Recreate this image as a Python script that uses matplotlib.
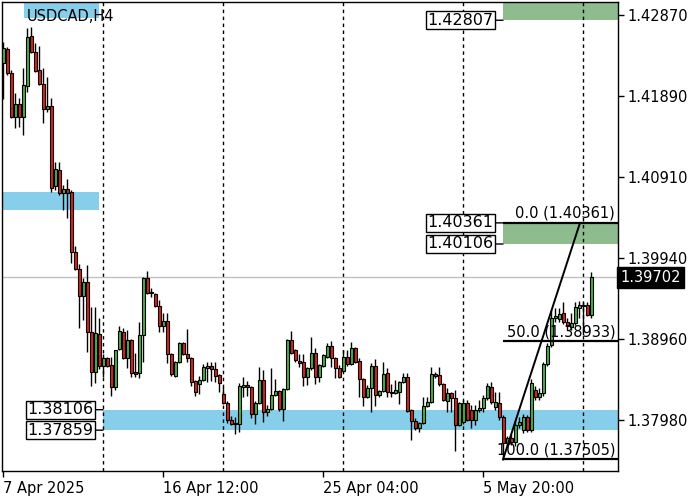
import matplotlib
matplotlib.use('Agg')
import numpy as np
import matplotlib.pyplot as plt
import matplotlib.transforms as mtransforms
from matplotlib.patches import Rectangle

plt.rcParams['font.family'] = ['DejaVu Sans']

symbol = 'USDCAD,H4'

# H4 candles, first bar 7 Apr 2025 20:00
opens = [
    1.4229, 1.4246, 1.4217, 1.4164, 1.4180, 1.4164, 1.4201, 1.4262, 1.4242, 1.4221,
    1.4204, 1.4174, 1.4177, 1.4081, 1.4100, 1.4072, 1.4077, 1.4073, 1.4001, 1.3980,
    1.3948, 1.3965, 1.3904, 1.3856, 1.3902, 1.3863, 1.3873, 1.3865, 1.3838, 1.3884,
    1.3904, 1.3873, 1.3895, 1.3856, 1.3855, 1.3901, 1.3970, 1.3953, 1.3950, 1.3936,
    1.3912, 1.3918, 1.3878, 1.3851, 1.3868, 1.3891, 1.3878, 1.3873, 1.3845, 1.3842,
    1.3846, 1.3861, 1.3863, 1.3860, 1.3852, 1.3830, 1.3819, 1.3798, 1.3793, 1.3793,
    1.3838, 1.3840, 1.3838, 1.3805, 1.3819, 1.3846, 1.3808, 1.3811, 1.3828, 1.3833,
    1.3811, 1.3836, 1.3895, 1.3883, 1.3869, 1.3868, 1.3850, 1.3861, 1.3879, 1.3850,
    1.3863, 1.3874, 1.3887, 1.3873, 1.3861, 1.3857, 1.3874, 1.3866, 1.3885, 1.3869,
    1.3848, 1.3826, 1.3837, 1.3863, 1.3828, 1.3833, 1.3855, 1.3831, 1.3831, 1.3832,
    1.3844, 1.3850, 1.3810, 1.3797, 1.3789, 1.3795, 1.3815, 1.3820, 1.3854, 1.3852,
    1.3842, 1.3821, 1.3831, 1.3825, 1.3792, 1.3796, 1.3819, 1.3810, 1.3798, 1.3810,
    1.3813, 1.3825, 1.3838, 1.3814, 1.3819, 1.3802, 1.3770, 1.3776, 1.3772, 1.3792,
    1.3786, 1.3802, 1.3786, 1.3834, 1.3826, 1.3831, 1.3866, 1.3889, 1.3921, 1.3920,
    1.3927, 1.3916, 1.3910, 1.3915, 1.3933, 1.3936, 1.3937, 1.3925]
highs = [
    1.4254, 1.4248, 1.4221, 1.4193, 1.4187, 1.4223, 1.4271, 1.4273, 1.4253, 1.4250,
    1.4223, 1.4212, 1.4187, 1.4110, 1.4110, 1.4082, 1.4089, 1.4076, 1.4008, 1.3986,
    1.3970, 1.3985, 1.3935, 1.3935, 1.3921, 1.3878, 1.3874, 1.3874, 1.3883, 1.3912,
    1.3909, 1.3907, 1.3896, 1.3879, 1.3916, 1.3971, 1.3978, 1.3957, 1.3951, 1.3943,
    1.3927, 1.3927, 1.3879, 1.3869, 1.3892, 1.3892, 1.3908, 1.3874, 1.3846, 1.3851,
    1.3866, 1.3868, 1.3868, 1.3868, 1.3854, 1.3838, 1.3821, 1.3803, 1.3802, 1.3843,
    1.3850, 1.3845, 1.3839, 1.3821, 1.3862, 1.3858, 1.3816, 1.3861, 1.3848, 1.3834,
    1.3837, 1.3896, 1.3906, 1.3884, 1.3878, 1.3878, 1.3862, 1.3898, 1.3885, 1.3866,
    1.3878, 1.3891, 1.3894, 1.3874, 1.3865, 1.3883, 1.3883, 1.3892, 1.3886, 1.3873,
    1.3849, 1.3840, 1.3867, 1.3872, 1.3834, 1.3868, 1.3861, 1.3842, 1.3846, 1.3845,
    1.3855, 1.3855, 1.3811, 1.3801, 1.3796, 1.3826, 1.3826, 1.3862, 1.3856, 1.3862,
    1.3843, 1.3837, 1.3832, 1.3834, 1.3820, 1.3822, 1.3822, 1.3816, 1.3816, 1.3822,
    1.3828, 1.3843, 1.3844, 1.3832, 1.3832, 1.3804, 1.3779, 1.3781, 1.3798, 1.3802,
    1.3805, 1.3804, 1.3848, 1.3839, 1.3837, 1.3868, 1.3891, 1.3931, 1.3933, 1.3933,
    1.3941, 1.3921, 1.3927, 1.3941, 1.3942, 1.3941, 1.3941, 1.3977]
lows = [
    1.4186, 1.4215, 1.4163, 1.4151, 1.4152, 1.4142, 1.4194, 1.4241, 1.4218, 1.4203,
    1.4157, 1.4170, 1.4073, 1.4076, 1.4070, 1.4052, 1.4042, 1.3988, 1.3979, 1.3909,
    1.3919, 1.3880, 1.3839, 1.3843, 1.3860, 1.3850, 1.3862, 1.3827, 1.3834, 1.3883,
    1.3872, 1.3861, 1.3850, 1.3850, 1.3849, 1.3868, 1.3950, 1.3947, 1.3935, 1.3904,
    1.3904, 1.3867, 1.3851, 1.3850, 1.3867, 1.3877, 1.3868, 1.3839, 1.3827, 1.3830,
    1.3845, 1.3844, 1.3845, 1.3844, 1.3832, 1.3817, 1.3795, 1.3792, 1.3781, 1.3784,
    1.3826, 1.3827, 1.3801, 1.3793, 1.3817, 1.3796, 1.3803, 1.3810, 1.3827, 1.3809,
    1.3797, 1.3834, 1.3878, 1.3868, 1.3862, 1.3839, 1.3840, 1.3858, 1.3842, 1.3844,
    1.3862, 1.3873, 1.3862, 1.3849, 1.3849, 1.3856, 1.3863, 1.3865, 1.3867, 1.3826,
    1.3815, 1.3825, 1.3808, 1.3815, 1.3826, 1.3832, 1.3826, 1.3826, 1.3830, 1.3817,
    1.3843, 1.3808, 1.3774, 1.3786, 1.3784, 1.3793, 1.3814, 1.3819, 1.3849, 1.3839,
    1.3821, 1.3808, 1.3808, 1.3761, 1.3791, 1.3793, 1.3797, 1.3789, 1.3792, 1.3808,
    1.3808, 1.3822, 1.3817, 1.3810, 1.3798, 1.37505, 1.3766, 1.3768, 1.3767, 1.3789,
    1.3782, 1.3784, 1.3784, 1.3822, 1.3822, 1.3827, 1.3863, 1.3886, 1.3916, 1.3916,
    1.3914, 1.3907, 1.3907, 1.3913, 1.3921, 1.3901, 1.3924, 1.3921]
closes = [
    1.4247, 1.4217, 1.4164, 1.4180, 1.4164, 1.4203, 1.4260, 1.4242, 1.4219, 1.4204,
    1.4174, 1.4177, 1.4078, 1.4101, 1.4072, 1.4077, 1.4072, 1.4001, 1.3980, 1.3948,
    1.3965, 1.3904, 1.3856, 1.3903, 1.3863, 1.3873, 1.3863, 1.3838, 1.3883, 1.3906,
    1.3873, 1.3895, 1.3855, 1.3854, 1.3901, 1.3970, 1.3951, 1.3951, 1.3936, 1.3912,
    1.3918, 1.3878, 1.3854, 1.3868, 1.3891, 1.3878, 1.3873, 1.3844, 1.3832, 1.3846,
    1.3862, 1.3863, 1.3860, 1.3851, 1.3843, 1.3819, 1.3798, 1.3793, 1.3795, 1.3839,
    1.3840, 1.3838, 1.3805, 1.3819, 1.3846, 1.3808, 1.3811, 1.3828, 1.3833, 1.3811,
    1.3836, 1.3895, 1.3879, 1.3871, 1.3867, 1.3850, 1.3861, 1.3879, 1.3850, 1.3865,
    1.3877, 1.3887, 1.3873, 1.3861, 1.3850, 1.3874, 1.3866, 1.3885, 1.3868, 1.3848,
    1.3826, 1.3837, 1.3863, 1.3828, 1.3833, 1.3854, 1.3832, 1.3832, 1.3834, 1.3844,
    1.3850, 1.3809, 1.3797, 1.3789, 1.3795, 1.3815, 1.3820, 1.3854, 1.3851, 1.3842,
    1.3822, 1.3831, 1.3825, 1.3792, 1.3819, 1.3819, 1.3798, 1.3798, 1.3810, 1.3813,
    1.3825, 1.3839, 1.3820, 1.3820, 1.3802, 1.3770, 1.3776, 1.3772, 1.3792, 1.3796,
    1.3802, 1.3786, 1.3843, 1.3826, 1.3831, 1.3866, 1.3887, 1.3921, 1.3924, 1.3926,
    1.3916, 1.3912, 1.3915, 1.3935, 1.3937, 1.3937, 1.3925, 1.39702]

date_ticks = [0, 40, 80, 120]
date_labels = ['7 Apr 2025', '16 Apr 12:00', '25 Apr 04:00', '5 May 20:00']
price_ticks = [1.42870, 1.41890, 1.40910, 1.39940, 1.38960, 1.37980]
week_starts = [25, 55, 85, 115, 145]

# zones: start bar, end bar (None = right edge), low, high
blue_zones = [(5.25, 24, 1.42834, 1.4310),
              (-0.25, 24, 1.40516, 1.40734),
              (25, None, 1.37859, 1.38106)]
green_zones = [(125, None, 1.42807, 1.4310),
               (125, None, 1.40106, 1.40361)]
zone_labels = [(25, 1.38106), (25, 1.37859), (125, 1.42807), (125, 1.40361), (125, 1.40106)]

fib_start = (125, 1.37505)
fib_end = (144.25, 1.40361)
fib_levels = [0.0, 50.0, 100.0]

x_min, x_max = -0.25, 153.75
y_min, y_max = 1.37366, 1.43027

fig = plt.figure(figsize=(7, 5), dpi=100)
ax = fig.add_axes([2 / 700, 29 / 500, 616 / 700, 469 / 500])
ax.set_xlim(x_min, x_max)
ax.set_ylim(y_min, y_max)

for x0, x1, lo, hi in blue_zones:
    x1 = x_max if x1 is None else x1
    ax.add_patch(Rectangle((x0, lo), x1 - x0, hi - lo, facecolor='#87ceeb', edgecolor='none', zorder=0.5))
for x0, x1, lo, hi in green_zones:
    x1 = x_max if x1 is None else x1
    ax.add_patch(Rectangle((x0, lo), x1 - x0, hi - lo, facecolor='#8fbc8f', edgecolor='none', zorder=0.5))

for w in week_starts:
    ax.axvline(w, color='black', lw=1, ls=(0, (2.5, 2.5)), zorder=1)

last = closes[-1]
ax.axhline(last, color='#c0c0c0', lw=1, zorder=1)

# candles
o = np.array(opens)
h = np.array(highs)
l = np.array(lows)
c = np.array(closes)
x = np.arange(len(o))
up = c >= o
colors = np.where(up, '#46b046', '#dc2119')
ax.vlines(x, l, h, color='black', lw=1, zorder=2)
body = np.maximum(np.abs(c - o), 0.000015)
ax.bar(x, body, bottom=np.minimum(o, c), width=0.75, color=colors,
       edgecolor='black', linewidth=0.8, zorder=3)

# fibonacci
rng = fib_end[1] - fib_start[1]
ax.plot([fib_start[0], fib_end[0]], [fib_start[1], fib_end[1]], color='black', lw=1.4, zorder=4)
blend = mtransforms.blended_transform_factory(ax.transAxes, ax.transData)
for lev in fib_levels:
    p = fib_end[1] - rng * lev / 100
    ax.plot([fib_start[0], x_max], [p, p], color='black', lw=1.6, zorder=4, solid_capstyle='butt')
    ax.annotate(f'{lev:.1f} ({p:.5f})', xy=(1, p), xycoords=blend, xytext=(-2, 1.5),
                textcoords='offset points', ha='right', va='bottom', fontsize=10.5, zorder=5)

# zone price labels
for xz, p in zone_labels:
    ax.annotate(f'{p:.5f}', xy=(xz, p), xytext=(-7, 0), textcoords='offset points',
                ha='right', va='center', fontsize=11.5, zorder=6,
                bbox=dict(boxstyle='square,pad=0.1', fc='white', ec='black', lw=1),
                arrowprops=dict(arrowstyle='-', color='black', lw=1, shrinkA=0, shrinkB=0))

ax.text(0.04, 0.985, symbol, transform=ax.transAxes, fontsize=10.5, va='top', ha='left', zorder=6)

# axes styling
for s in ax.spines.values():
    s.set_color('black')
    s.set_linewidth(1)
ax.yaxis.tick_right()
ax.set_yticks(price_ticks)
ax.set_yticklabels([f'{p:.5f}' for p in price_ticks])
ax.set_xticks(date_ticks)
ax.set_xticklabels(date_labels)
for lbl in ax.get_xticklabels():
    lbl.set_ha('left')
ax.tick_params(axis='both', direction='out', length=4, width=1, labelsize=10.5, pad=3, colors='black')

ax.text(1.004, last, f'{last:.5f}', transform=blend, color='white', fontsize=10.5,
        va='center', ha='left', zorder=6,
        bbox=dict(boxstyle='square,pad=0.22', fc='black', ec='black'))

fig.savefig('out.png', dpi=100)
